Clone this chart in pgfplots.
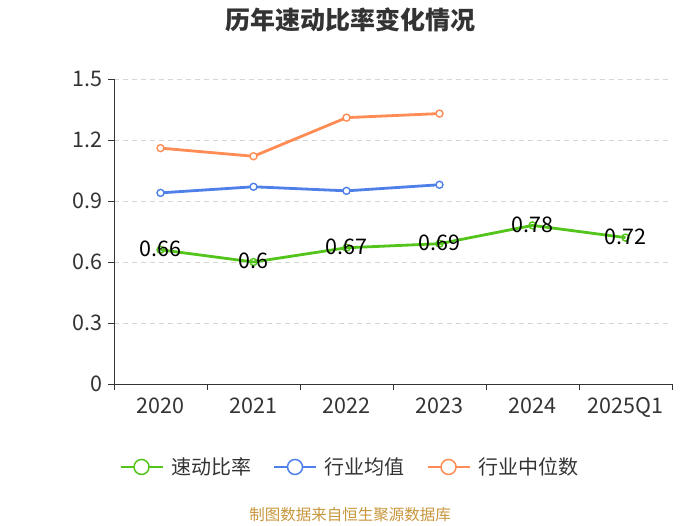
\documentclass[border=0pt]{standalone}
\usepackage{fontspec}
\setmainfont{Noto Sans CJK SC}
\usepackage{pgfplots}
\pgfplotsset{compat=1.18}
\definecolor{cgreen}{HTML}{52C41A}
\definecolor{cblue}{HTML}{4F7FE8}
\definecolor{corange}{HTML}{FF8C55}
\definecolor{cgrid}{HTML}{D6D6D6}
\definecolor{ctext}{HTML}{333333}
\definecolor{cfoot}{HTML}{C8963C}
\begin{document}
\begin{tikzpicture}
\useasboundingbox (-160.5pt,-141pt) rectangle (539.5pt,384pt);
\node[font=\bfseries\fontsize{25}{30}\selectfont, text=ctext] at (189.5pt,364pt) {历年速动比率变化情况};
\node[font=\fontsize{15.5}{18}\selectfont, text=cfoot] at (189.5pt,-131pt) {制图数据来自恒生聚源数据库};
\begin{axis}[
  anchor=origin, scale only axis,
  width=558pt, height=305pt,
  xmin=-0.5, xmax=5.5, ymin=0, ymax=1.5,
  axis x line*=bottom, axis y line*=left,
  axis line style={ctext, line width=0.8pt},
  xtick={0,1,2,3,4,5},
  xticklabels={2020,2021,2022,2023,2024,2025Q1},
  minor xtick={-0.5,0.5,1.5,2.5,3.5,4.5,5.5},
  ytick={0,0.3,0.6,0.9,1.2,1.5},
  yticklabels={0,0.3,0.6,0.9,1.2,1.5},
  tick align=outside,
  major tick length=6pt, minor tick length=6pt,
  x tick style={draw=none},
  minor x tick style={draw=ctext, line width=0.8pt},
  y tick style={draw=ctext, line width=0.8pt},
  ymajorgrids,
  grid style={dashed, cgrid, line width=0.8pt, dash pattern=on 5pt off 4pt},
  ticklabel style={font=\fontsize{21.5}{24}\selectfont, text=ctext},
  xticklabel style={yshift=-4pt},
  yticklabel style={xshift=-2pt},
  clip=false,
  every axis plot/.append style={line width=2.8pt},
  legend style={at={(0.423,-0.272)}, anchor=center, draw=none, fill=none,
    font=\fontsize{20}{24}\selectfont, text=ctext, legend columns=3,
    /tikz/every odd column/.append style={column sep=6pt},
    /tikz/every even column/.append style={column sep=20pt}},
  legend image code/.code={
    \draw[#1, line width=1.5pt] (0pt,0pt) -- (42pt,0pt);
    \draw[#1, line width=1.5pt, fill=white] (21pt,0pt) circle (7.5pt);
  },
]
\addplot[cgreen, mark=o, mark options={fill=white, line width=1.4pt, mark size=3.5pt},
  nodes near coords, point meta=explicit symbolic,
  every node near coord/.append style={anchor=center, font=\fontsize{21.5}{24}\selectfont, text=black, yshift=1pt}]
  coordinates {(0,0.66)[0.66] (1,0.60)[0.6] (2,0.67)[0.67] (3,0.69)[0.69] (4,0.78)[0.78] (5,0.72)[0.72]};
\addlegendentry{速动比率}
\addplot[cblue, mark=*, mark options={fill=white, line width=1.4pt, mark size=3.5pt}]
  coordinates {(0,0.94) (1,0.97) (2,0.95) (3,0.98)};
\addlegendentry{行业均值}
\addplot[corange, mark=*, mark options={fill=white, line width=1.4pt, mark size=3.5pt}]
  coordinates {(0,1.16) (1,1.12) (2,1.31) (3,1.33)};
\addlegendentry{行业中位数}
\end{axis}
\end{tikzpicture}
\end{document}
